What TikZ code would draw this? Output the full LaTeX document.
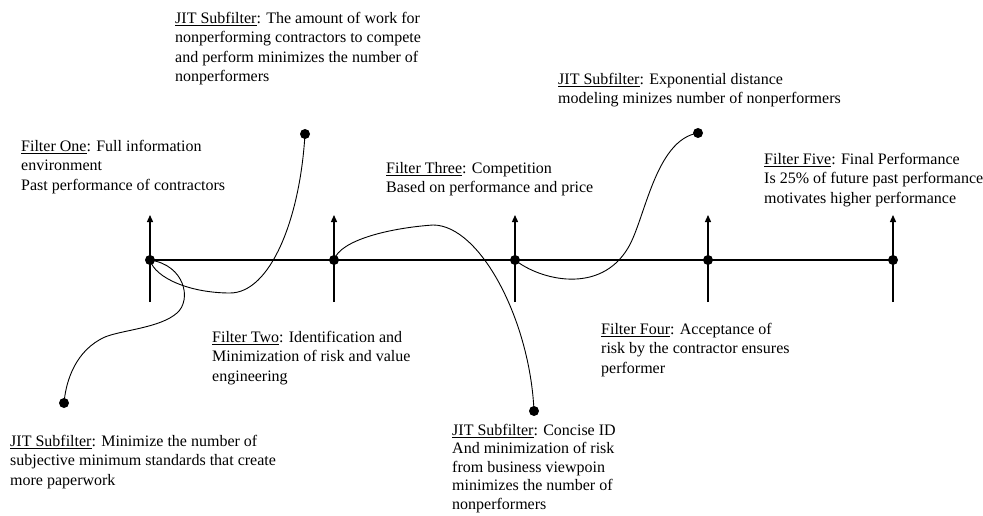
\documentclass[tikz,border=0pt]{standalone}
\usepackage{fontspec}
\setmainfont{Liberation Serif}
\usetikzlibrary{arrows.meta}

\begin{document}
\begin{tikzpicture}[x=1pt, y=-1pt,
    dot/.style={circle, fill=black, inner sep=0pt, minimum size=10pt},
    tick/.style={line width=1.3pt, -{Triangle[length=7pt, width=6pt]}},
    link/.style={line width=0.9pt},
    note/.style={anchor=north west, inner sep=0pt, align=left,
        font=\fontsize{16}{19.5}\selectfont}]
        \useasboundingbox (0,0) rectangle (983,516);

        % Filter points on the time line
        \node[dot] (f1) at (150,260) {};
        \node[dot] (f2) at (334,260) {};
        \node[dot] (f3) at (515,260) {};
        \node[dot] (f4) at (708,260) {};
        \node[dot] (f5) at (893,260) {};
        \draw[line width=1.3pt] (f1.center) -- (f5.center);
        \foreach \f in {f1,f2,f3,f4,f5}
            \draw[tick] (\f.center) ++(0,42) -- ++(0,-87);

        % JIT subfilter points
        \node[dot] (s0) at (64,403) {};
        \node[dot] (s1) at (305,134) {};
        \node[dot] (s2) at (534,411) {};
        \node[dot] (s3) at (698,133) {};

        % Curves from the filters to the subfilters
        \draw[link] (f1.center) .. controls (185,265) and (192,300) .. (177,313)
            .. controls (160,328) and (122,330) .. (105,337)
            .. controls (76,350) and (66,380) .. (s0.center);
        \draw[link] (f1.center) .. controls (155,278) and (190,293) .. (230,293)
            .. controls (270,293) and (300,220) .. (s1.center);
        \draw[link] (f2.center) .. controls (340,240) and (390,228) .. (433,225)
            .. controls (480,225) and (530,320) .. (s2.center);
        \draw[link] (f3.center) .. controls (540,280) and (600,295) .. (628,248)
            .. controls (645,220) and (655,140) .. (s3.center);

        % Filter texts
        \node[note] (t1) at (21,140) {\underline{Filter One}: Full information\\environment\\Past performance of contractors};
        \node[note] (t2) at (212,331) {\underline{Filter Two}: Identification and\\Minimization of risk and value\\engineering};
        \node[note] (t3) at (386,162) {\underline{Filter Three}: Competition\\Based on performance and price};
        \node[note] (t4) at (601,323) {\underline{Filter Four}: Acceptance of\\risk by the contractor ensures\\performer};
        \node[note] (t5) at (764,153) {\underline{Filter Five}: Final Performance\\Is 25\% of future past performance\\motivates higher performance};

        % JIT subfilter texts
        \node[note] (u0) at (10,435) {\underline{JIT Subfilter}: Minimize the number of\\subjective minimum standards that create\\more paperwork};
        \node[note] (u1) at (175,12) {\underline{JIT Subfilter}: The amount of work for\\nonperforming contractors to compete\\and perform minimizes the number of\\nonperformers};
        \node[note, font=\fontsize{16}{18.5}\selectfont] (u2) at (452,424) {\underline{JIT Subfilter}: Concise ID\\And minimization of risk\\from business viewpoin\\minimizes the number of\\nonperformers};
        \node[note] (u3) at (558,73) {\underline{JIT Subfilter}: Exponential distance\\modeling minizes number of nonperformers};
    \end{tikzpicture}
\end{document}
